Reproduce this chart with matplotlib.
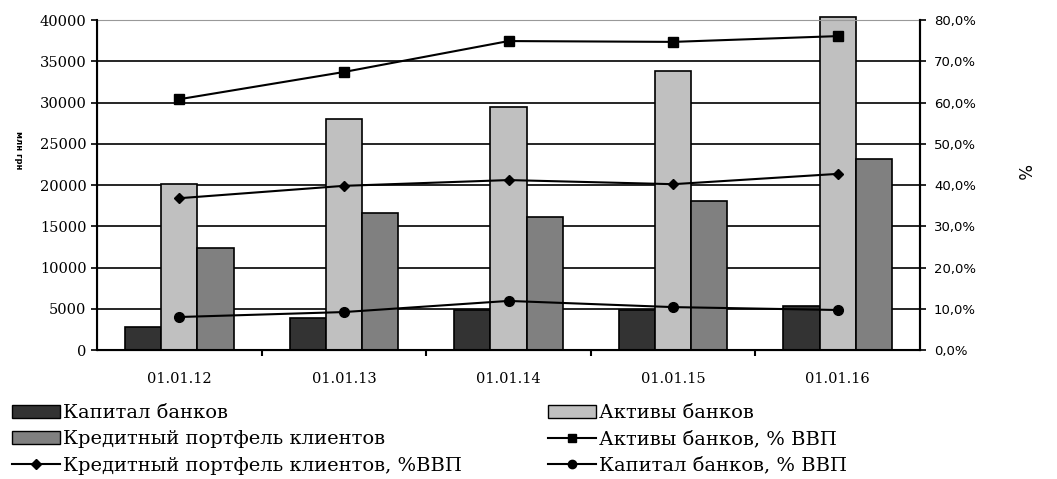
import numpy as np
import matplotlib.pyplot as plt
from matplotlib.ticker import FuncFormatter, MultipleLocator
from matplotlib.patches import Patch
from matplotlib.lines import Line2D

plt.rcParams['font.family'] = ['DejaVu Serif']

# data
dates = ["01.01.12", "01.01.13", "01.01.14", "01.01.15", "01.01.16"]
capital = [2800, 3900, 4800, 4900, 5300]          # Капитал банков, млн грн
assets = [20100, 28000, 29400, 33800, 40400]      # Активы банков
loans = [12400, 16600, 16100, 18100, 23200]       # Кредитный портфель клиентов
assets_gdp = [60.8, 67.4, 74.9, 74.7, 76.1]       # %
loans_gdp = [36.8, 39.8, 41.2, 40.2, 42.7]
capital_gdp = [8.0, 9.2, 11.9, 10.4, 9.7]

c_cap = "#333333"
c_ass = "#c0c0c0"
c_loan = "#808080"

fig = plt.figure(figsize=(10.57, 4.79), dpi=100)
ax = fig.add_axes([0.0918, 0.2693, 0.7786, 0.6889])
x = np.arange(len(dates))
w = 0.22

ax.bar(x - w, capital, w, color=c_cap, edgecolor="black", linewidth=1.2, zorder=2)
b2 = ax.bar(x, assets, w, color=c_ass, edgecolor="black", linewidth=1.2, zorder=2)
ax.bar(x + w, loans, w, color=c_loan, edgecolor="black", linewidth=1.2, zorder=2)
for p in b2:
    p.set_clip_on(False)

ax.set_xlim(-0.5, len(dates) - 0.5)
ax.set_ylim(0, 40000)
ax.yaxis.set_major_locator(MultipleLocator(5000))
ax.grid(axis="y", color="black", linewidth=1.2, zorder=0)
ax.set_axisbelow(True)
ax.set_xticks(x)
ax.set_xticklabels(dates, fontsize=10.5)
ax.set_xticks(np.arange(0.5, len(dates) - 0.5, 1), minor=True)
ax.tick_params(axis="x", which="major", length=0, pad=16)
ax.tick_params(axis="x", which="minor", length=4, width=1.5, direction="out")
ax.tick_params(axis="y", labelsize=10.5, length=4, width=1.2)
ax.spines["top"].set_color("#999999")
for s in ["left", "bottom", "right"]:
    ax.spines[s].set_linewidth(1.5)
fig.text(18 / 1057, 1 - 150 / 479, "млн грн", fontsize=6, fontweight="bold",
         rotation=-90, ha="center", va="center", family="DejaVu Sans")

ax2 = ax.twinx()
ax2.set_ylim(0, 80)
ax2.yaxis.set_major_locator(MultipleLocator(10))
ax2.yaxis.set_major_formatter(FuncFormatter(lambda v, p: f"{v:.1f}%".replace(".", ",")))
ax2.tick_params(axis="y", labelsize=9.5, length=4, width=1.2, pad=6)
for t in ax2.get_yticklabels():
    t.set_family("DejaVu Sans")
ax2.spines["right"].set_linewidth(1.5)
ax2.spines["top"].set_visible(False)
ax2.plot(x, assets_gdp, color="black", lw=1.5, marker="s", ms=7, zorder=3)
ax2.plot(x, loans_gdp, color="black", lw=1.5, marker="D", ms=5.5, zorder=3)
ax2.plot(x, capital_gdp, color="black", lw=1.5, marker="o", ms=7, zorder=3)
fig.text(1022 / 1057, 1 - 172 / 479, "%", fontsize=12, rotation=-90,
         ha="center", va="center", family="DejaVu Sans")

# legend in two independent columns
h_cap = Patch(facecolor=c_cap, edgecolor="black")
h_ass = Patch(facecolor=c_ass, edgecolor="black")
h_loan = Patch(facecolor=c_loan, edgecolor="black")
h_ass_l = Line2D([], [], color="black", lw=1.5, marker="s", ms=6)
h_loan_l = Line2D([], [], color="black", lw=1.5, marker="D", ms=5)
h_cap_l = Line2D([], [], color="black", lw=1.5, marker="o", ms=6)

leg_kw = dict(frameon=False, fontsize=14, handlelength=2.5, handleheight=0.65,
              handletextpad=0.15, labelspacing=0.42, borderaxespad=0, borderpad=0)
fig.legend([h_cap, h_loan, h_loan_l],
           ["Капитал банков", "Кредитный портфель клиентов", "Кредитный портфель клиентов, %ВВП"],
           loc="upper left", bbox_to_anchor=(0.011, 0.156), **leg_kw)
fig.legend([h_ass, h_ass_l, h_cap_l],
           ["Активы банков", "Активы банков, % ВВП", "Капитал банков, % ВВП"],
           loc="upper left", bbox_to_anchor=(0.518, 0.156), **leg_kw)

fig.savefig("out.png", dpi=100)
